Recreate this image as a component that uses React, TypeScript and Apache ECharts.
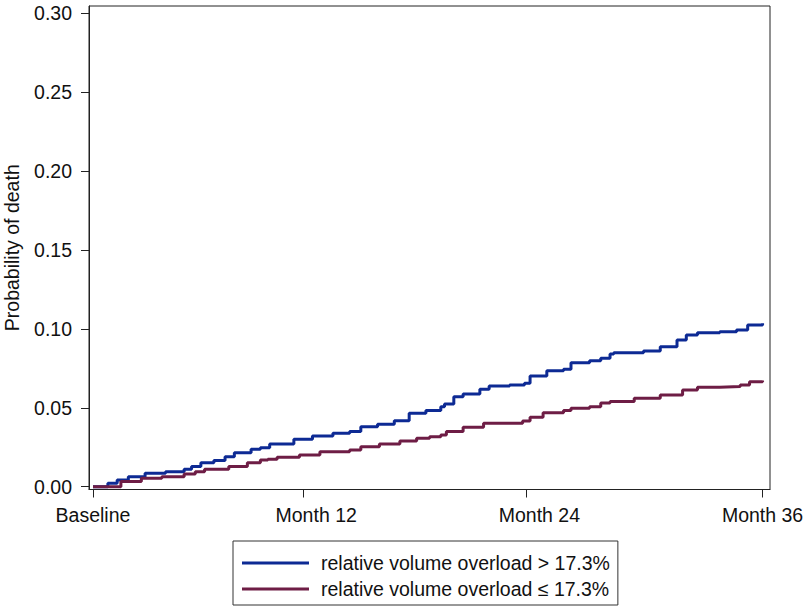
import React, { useEffect, useRef } from "react";
import * as echarts from "echarts";

// Months since baseline and cumulative probability of death
const highMonths = [0, 0.8, 1.3, 1.9, 2.8, 3.9, 4.9, 5.3, 5.8, 6.5, 7.1, 7.6, 8.5, 9.0, 9.5, 10.8, 11.8, 12.9, 13.8, 14.4, 15.3, 16.2, 17.0, 17.9, 18.7, 18.9, 19.4, 19.9, 20.8, 21.3, 22.4, 23.2, 23.5, 24.4, 25.3, 25.7, 26.7, 27.3, 27.8, 28.0, 29.6, 30.5, 31.4, 31.9, 32.5, 33.7, 34.6, 35.2, 36.0];
const highValues = [0, 0.0022, 0.0042, 0.0063, 0.0085, 0.0095, 0.011, 0.0127, 0.0152, 0.0165, 0.019, 0.0215, 0.0237, 0.0247, 0.027, 0.03, 0.0321, 0.0338, 0.0349, 0.038, 0.0395, 0.0418, 0.0465, 0.0482, 0.0507, 0.0524, 0.057, 0.0587, 0.0617, 0.0638, 0.0644, 0.0655, 0.0702, 0.0735, 0.0744, 0.0786, 0.0798, 0.0814, 0.0841, 0.0849, 0.086, 0.0887, 0.093, 0.0961, 0.0976, 0.0982, 0.0993, 0.1025, 0.1035];

const lowMonths = [0, 0.3, 1.5, 2.6, 3.7, 4.9, 5.5, 6.0, 7.3, 8.3, 9.0, 9.4, 9.9, 11.1, 12.2, 13.8, 14.4, 15.4, 16.5, 17.4, 18.1, 18.7, 19.0, 19.9, 21.0, 23.1, 23.5, 24.2, 25.3, 25.7, 26.7, 27.3, 27.8, 29.1, 30.5, 31.7, 32.5, 33.7, 34.8, 35.3, 36.0];
const lowValues = [0, 0, 0.0032, 0.0053, 0.0063, 0.008, 0.0095, 0.011, 0.0127, 0.0152, 0.0169, 0.0174, 0.0186, 0.0201, 0.0222, 0.0233, 0.0253, 0.0271, 0.029, 0.0307, 0.0317, 0.0328, 0.0349, 0.0376, 0.0402, 0.0416, 0.044, 0.0469, 0.0482, 0.0497, 0.0507, 0.053, 0.0539, 0.056, 0.0581, 0.0613, 0.063, 0.0634, 0.0644, 0.0665, 0.0672];

const seriesNames = ["relative volume overload > 17.3%", "relative volume overload \u2264 17.3%"];
const seriesColors = ["#0d2a94", "#6e1d45"];

const xTickMonths = [0, 11.3, 23.3, 36];
const xLabelMonths = [0, 12, 24, 36];
const xLabelTexts = ["Baseline", "Month 12", "Month 24", "Month 36"];
const yTicks = [0, 0.05, 0.1, 0.15, 0.2, 0.25, 0.3];
const yTitle = "Probability of death";

const FONT = "'Liberation Sans', Arial, Helvetica, sans-serif";

export default function App() {
  const ref = useRef<HTMLDivElement>(null);
  useEffect(() => {
    if (!ref.current) return;
    const chart = echarts.init(ref.current, undefined, { renderer: "svg" });
    const toPairs = (xs: number[], ys: number[]) => xs.map((x, i) => [x, ys[i]]);
    chart.setOption({
      animation: false,
      backgroundColor: "#ffffff",
      textStyle: { fontFamily: FONT, color: "#111" },
      grid: {
        left: 89,
        right: 37,
        top: 6,
        bottom: 117.5,
        show: true,
        borderColor: "#222",
        borderWidth: 1,
        backgroundColor: "#ffffff",
        containLabel: false,
        outerBoundsMode: "none",
      },
      xAxis: {
        type: "value",
        min: -0.215,
        max: 36.4,
        axisLine: { show: true, onZero: false, lineStyle: { color: "#222", width: 1 } },
        axisTick: { show: true, length: 8, customValues: xTickMonths, lineStyle: { color: "#222" } },
        axisLabel: {
          customValues: xLabelMonths,
          margin: 15,
          fontSize: 19.5,
          color: "#111",
          fontFamily: FONT,
          formatter: (v: number) => {
            const i = xLabelMonths.findIndex((m) => Math.abs(m - v) < 1e-6);
            return i >= 0 ? xLabelTexts[i] : "";
          },
        },
        splitLine: { show: false },
      },
      yAxis: {
        type: "value",
        min: -0.0018,
        max: 0.3046,
        name: yTitle,
        nameLocation: "middle",
        nameGap: 67,
        nameRotate: 90,
        nameTextStyle: { fontSize: 19.5, color: "#111", fontFamily: FONT },
        axisLine: { show: true, onZero: false, lineStyle: { color: "#222", width: 1 } },
        axisTick: { show: true, length: 8, customValues: yTicks, lineStyle: { color: "#222" } },
        axisLabel: {
          customValues: yTicks,
          margin: 17,
          fontSize: 19.5,
          color: "#111",
          fontFamily: FONT,
          formatter: (v: number) => v.toFixed(2),
        },
        splitLine: { show: false },
      },
      legend: {
        orient: "vertical",
        left: 233,
        top: 541,
        width: 384,
        padding: [12, 8, 6, 9],
        itemGap: 6,
        itemWidth: 67,
        itemHeight: 3,
        icon: "rect",
        borderColor: "#333",
        borderWidth: 1,
        backgroundColor: "#fff",
        textStyle: { fontSize: 19.5, color: "#111", fontFamily: FONT, padding: [0, 0, 0, 7] },
        data: seriesNames,
      },
      series: [
        {
          name: seriesNames[0],
          type: "line",
          step: "end",
          showSymbol: false,
          data: toPairs(highMonths, highValues),
          lineStyle: { color: seriesColors[0], width: 3 },
          itemStyle: { color: seriesColors[0] },
        },
        {
          name: seriesNames[1],
          type: "line",
          step: "end",
          showSymbol: false,
          data: toPairs(lowMonths, lowValues),
          lineStyle: { color: seriesColors[1], width: 3 },
          itemStyle: { color: seriesColors[1] },
        },
      ],
    });
    return () => chart.dispose();
  }, []);
  return (
    <div
      ref={ref}
      style={{ position: "fixed", left: 0, top: 0, width: 807, height: 607 }}
    />
  );
}
